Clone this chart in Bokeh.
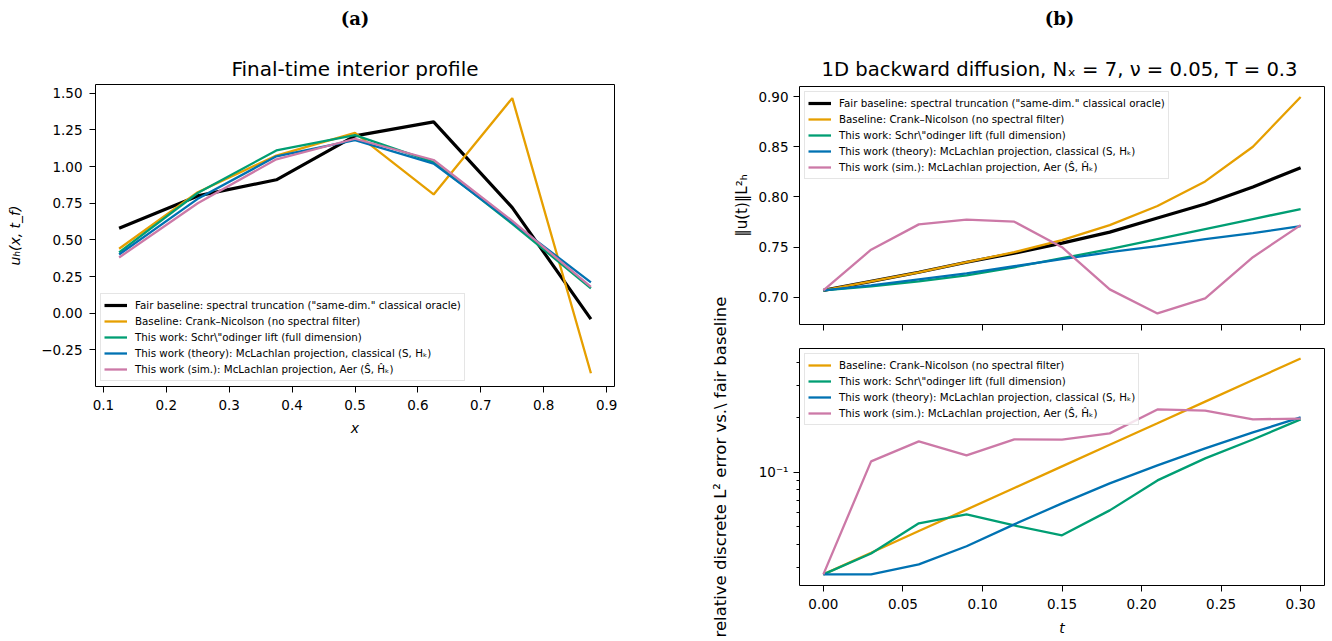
from bokeh.plotting import figure
from bokeh.layouts import row, column
from bokeh.models import Range1d, FixedTicker, CustomJSTickFormatter
from bokeh.core.properties import value
from bokeh.embed import file_html
from bokeh.resources import INLINE

FONT = "DejaVu Sans"

# ---------------- data ----------------
x_nodes = [0.125, 0.25, 0.375, 0.5, 0.625, 0.75, 0.875]
prof_fair = [0.58, 0.80, 0.91, 1.21, 1.305, 0.72, -0.04]
prof_cn = [0.44, 0.825, 1.075, 1.23, 0.81, 1.467, -0.41]
prof_schr = [0.415, 0.82, 1.11, 1.215, 1.03, 0.61, 0.17]
prof_theory = [0.40, 0.78, 1.07, 1.18, 1.02, 0.62, 0.21]
prof_sim = [0.38, 0.75, 1.05, 1.19, 1.045, 0.63, 0.18]

t_vals = [0.00, 0.03, 0.06, 0.09, 0.12, 0.15, 0.18, 0.21, 0.24, 0.27, 0.30]
norm_fair = [0.707, 0.716, 0.725, 0.735, 0.744, 0.754, 0.765, 0.779, 0.793, 0.810, 0.829]
norm_cn = [0.707, 0.716, 0.725, 0.735, 0.745, 0.757, 0.772, 0.791, 0.8155, 0.850, 0.8995]
norm_schr = [0.707, 0.711, 0.716, 0.722, 0.730, 0.739, 0.748, 0.758, 0.768, 0.778, 0.788]
norm_theory = [0.707, 0.712, 0.718, 0.724, 0.731, 0.738, 0.745, 0.751, 0.758, 0.764, 0.771]
norm_sim = [0.707, 0.7475, 0.7727, 0.7774, 0.7754, 0.750, 0.708, 0.684, 0.699, 0.740, 0.772]

err_cn = [0.0274, 0.0360, 0.0474, 0.0622, 0.0818, 0.1075, 0.1413, 0.1856, 0.244, 0.3207, 0.4214]
err_schr = [0.0274, 0.0357, 0.0523, 0.0586, 0.0509, 0.0449, 0.0616, 0.090, 0.119, 0.151, 0.195]
err_theory = [0.0274, 0.0274, 0.0311, 0.0391, 0.0516, 0.0673, 0.0867, 0.1088, 0.135, 0.1652, 0.1998]
err_sim = [0.0274, 0.1145, 0.1475, 0.1235, 0.1512, 0.151, 0.1632, 0.221, 0.218, 0.195, 0.197]

x_ticks = [0.1, 0.2, 0.3, 0.4, 0.5, 0.6, 0.7, 0.8, 0.9]
u_ticks = [-0.25, 0.0, 0.25, 0.5, 0.75, 1.0, 1.25, 1.5]
t_ticks = [0.0, 0.05, 0.10, 0.15, 0.20, 0.25, 0.30]
norm_ticks = [0.70, 0.75, 0.80, 0.85, 0.90]
err_major = [0.1]
err_minor = [0.03, 0.04, 0.05, 0.06, 0.07, 0.08, 0.09, 0.2, 0.3, 0.4]

lab_fair = 'Fair baseline: spectral truncation ("same-dim." classical oracle)'
lab_cn = "Baseline: Crank–Nicolson (no spectral filter)"
lab_schr = 'This work: Schr\\"odinger lift (full dimension)'
lab_theory = "This work (theory): McLachlan projection, classical (S, Hₖ)"
lab_sim = "This work (sim.): McLachlan projection, Aer (Ŝ, Ĥₖ)"

C_FAIR, C_CN, C_SCHR, C_TH, C_SIM = "#000000", "#E69F00", "#009E73", "#0072B2", "#CC79A7"

title_a = "(a)"
title_b = "(b)"
sub_a = "Final-time interior profile"
sub_b = "1D backward diffusion, Nₓ = 7, ν = 0.05, T = 0.3"
xlab_a = "x"
ylab_a = "uₕ(x, t_f)"
xlab_b = "t"
ylab_norm = "‖u(t)‖L²ₕ"
ylab_err = "relative discrete L² error vs.\\ fair baseline"

# ---------------- layout geometry (pixels) ----------------
W_TOTAL = 1330
HEAD_H = 82
P1_W, P1_BL, P1_FW = 690, 95, 519
P1_BR = P1_W - P1_BL - P1_FW
P1_BT, P1_FH, P1_BB = 2, 302, 64
STRIP_W = 40
R_W = W_TOTAL - P1_W - STRIP_W
R_BL, R_FW = 64, 530
R_BR = R_W - R_BL - R_FW
P2_BT, P2_FH, P2_BB = 4, 238, 22
P3_BT, P3_FH, P3_BB = 2, 237, 55
BODY_H = P2_BT + P2_FH + P2_BB + P3_BT + P3_FH + P3_BB
# frame of the label strip: centred on the lower panel's frame
S_FH = 333
S_BT = P2_BT + P2_FH + P2_BB + P3_BT + P3_FH // 2 - S_FH // 2
S_BB = BODY_H - S_BT - S_FH

fmt2 = CustomJSTickFormatter(code="return tick.toFixed(2).replace('-', '\u2212');")
fmt1 = CustomJSTickFormatter(code="return tick.toFixed(1);")
fmt_log = CustomJSTickFormatter(code="""
const e = Math.round(Math.log10(tick));
const sup = {'-':'\u207b','0':'\u2070','1':'\u00b9','2':'\u00b2','3':'\u00b3','4':'\u2074','5':'\u2075','6':'\u2076','7':'\u2077','8':'\u2078','9':'\u2079'};
return '10' + String(e).split('').map(c => sup[c]).join('');
""")


def style(p):
    p.xgrid.visible = False
    p.ygrid.visible = False
    p.outline_line_color = "black"
    p.outline_line_width = 1
    p.outline_line_alpha = 1
    p.background_fill_color = "white"
    p.border_fill_color = "white"
    for ax in list(p.xaxis) + list(p.yaxis):
        ax.axis_line_color = None
        ax.major_tick_out = 6
        ax.major_tick_in = 0
        ax.major_tick_line_color = "black"
        ax.major_tick_line_width = 1
        ax.minor_tick_line_color = None
        ax.major_label_text_font = FONT
        ax.major_label_text_font_size = "13.5px"
        ax.major_label_text_color = "black"
        ax.major_label_standoff = 7
        ax.axis_label_text_font = FONT
        ax.axis_label_text_font_size = "14px"
        ax.axis_label_text_color = "black"
        ax.axis_label_standoff = 8


def style_legend(p, loc):
    lg = p.legend[0]
    lg.location = loc
    lg.margin = 5
    lg.padding = 3
    lg.spacing = 0
    lg.label_height = 16
    lg.glyph_height = 16
    lg.glyph_width = 23
    lg.label_standoff = 8
    lg.label_text_font = FONT
    lg.label_text_font_size = "10.3px"
    lg.label_text_color = "black"
    lg.border_line_color = "#cccccc"
    lg.border_line_width = 1
    lg.background_fill_color = "white"
    lg.background_fill_alpha = 0.8


# ---------------- header: panel letters and titles ----------------
cx_a = P1_BL + P1_FW / 2
cx_b = P1_W + STRIP_W + R_BL + R_FW / 2
hd = figure(width=W_TOTAL, height=HEAD_H, x_range=Range1d(0, W_TOTAL), y_range=Range1d(HEAD_H, 0),
            output_backend="svg", toolbar_location=None, min_border=0,
            x_axis_location=None, y_axis_location=None)
hd.outline_line_color = None
hd.grid.visible = False
hd.text(x=[cx_a, cx_b], y=[18, 18], text=[title_a, title_b], text_align="center",
        text_baseline="middle", text_font=value("DejaVu Serif"), text_font_style="bold",
        text_font_size="18px", text_color="black")
hd.text(x=[cx_a], y=[68], text=[sub_a], text_align="center", text_baseline="middle",
        text_font=value(FONT), text_font_size="20px", text_color="black")
hd.text(x=[cx_b], y=[69], text=[sub_b], text_align="center", text_baseline="middle",
        text_font=value(FONT), text_font_size="19.6px", text_color="black")

# ---------------- (a) ----------------
p1 = figure(width=P1_W, height=P1_BT + P1_FH + P1_BB,
            x_range=Range1d(0.0875, 0.9125), y_range=Range1d(-0.50, 1.56),
            output_backend="svg", toolbar_location=None,
            min_border_left=P1_BL, min_border_right=P1_BR,
            min_border_top=P1_BT, min_border_bottom=P1_BB)
p1.line(x_nodes, prof_fair, color=C_FAIR, line_width=3.2, legend_label=lab_fair)
p1.line(x_nodes, prof_cn, color=C_CN, line_width=2.3, legend_label=lab_cn)
p1.line(x_nodes, prof_schr, color=C_SCHR, line_width=2.3, legend_label=lab_schr)
p1.line(x_nodes, prof_theory, color=C_TH, line_width=2.3, legend_label=lab_theory)
p1.line(x_nodes, prof_sim, color=C_SIM, line_width=2.3, legend_label=lab_sim)
style(p1)
p1.xaxis.ticker = FixedTicker(ticks=x_ticks)
p1.xaxis.formatter = fmt1
p1.yaxis.ticker = FixedTicker(ticks=u_ticks)
p1.yaxis.formatter = fmt2
p1.xaxis.axis_label = xlab_a
p1.xaxis.axis_label_standoff = 7
p1.yaxis.axis_label = ylab_a
p1.yaxis.axis_label_standoff = 15
style_legend(p1, "bottom_left")

# ---------------- label strip holding the lower panel's y label ----------------
ps = figure(width=STRIP_W, height=BODY_H, x_range=Range1d(0, 1), y_range=Range1d(0, 1),
            output_backend="svg", toolbar_location=None,
            min_border_left=STRIP_W - 1, min_border_right=0,
            min_border_top=S_BT, min_border_bottom=S_BB,
            x_axis_location=None, y_axis_location="left")
ps.outline_line_color = None
ps.grid.visible = False
ps.background_fill_color = "white"
ps.border_fill_color = "white"
ps.yaxis.ticker = FixedTicker(ticks=[])
ps.yaxis.axis_line_color = None
ps.yaxis.major_tick_out = 0
ps.yaxis.major_tick_in = 0
ps.yaxis.minor_tick_line_color = None
ps.yaxis.major_tick_line_color = None
ps.yaxis.major_label_text_color = None
ps.yaxis.major_label_text_font_size = "1px"
ps.yaxis.major_label_standoff = 0
ps.yaxis.axis_label = ylab_err
ps.yaxis.axis_label_standoff = 0
ps.yaxis.axis_label_text_font = FONT
ps.yaxis.axis_label_text_font_size = "16.5px"
ps.yaxis.axis_label_text_font_style = "normal"
ps.yaxis.axis_label_text_color = "black"

# ---------------- (b) top ----------------
p2 = figure(width=R_W, height=P2_BT + P2_FH + P2_BB,
            x_range=Range1d(-0.015, 0.315), y_range=Range1d(0.673, 0.910),
            output_backend="svg", toolbar_location=None,
            min_border_left=R_BL, min_border_right=R_BR,
            min_border_top=P2_BT, min_border_bottom=P2_BB)
p2.line(t_vals, norm_fair, color=C_FAIR, line_width=3.2, legend_label=lab_fair)
p2.line(t_vals, norm_cn, color=C_CN, line_width=2.3, legend_label=lab_cn)
p2.line(t_vals, norm_schr, color=C_SCHR, line_width=2.3, legend_label=lab_schr)
p2.line(t_vals, norm_theory, color=C_TH, line_width=2.3, legend_label=lab_theory)
p2.line(t_vals, norm_sim, color=C_SIM, line_width=2.3, legend_label=lab_sim)
style(p2)
p2.xaxis.ticker = FixedTicker(ticks=t_ticks)
p2.xaxis.major_label_text_color = None
p2.xaxis.major_label_text_font_size = "1px"
p2.xaxis.major_label_standoff = 0
p2.yaxis.ticker = FixedTicker(ticks=norm_ticks)
p2.yaxis.formatter = fmt2
p2.yaxis.major_label_standoff = 5
p2.yaxis.axis_label = ylab_norm
p2.yaxis.axis_label_standoff = 4
p2.yaxis.axis_label_text_font_size = "15px"
p2.yaxis.axis_label_text_font_style = "normal"
style_legend(p2, "top_left")

# ---------------- (b) bottom ----------------
p3 = figure(width=R_W, height=P3_BT + P3_FH + P3_BB,
            x_range=Range1d(-0.015, 0.315), y_range=Range1d(0.0238, 0.478),
            y_axis_type="log", output_backend="svg", toolbar_location=None,
            min_border_left=R_BL, min_border_right=R_BR,
            min_border_top=P3_BT, min_border_bottom=P3_BB)
p3.line(t_vals, err_cn, color=C_CN, line_width=2.3, legend_label=lab_cn)
p3.line(t_vals, err_schr, color=C_SCHR, line_width=2.3, legend_label=lab_schr)
p3.line(t_vals, err_theory, color=C_TH, line_width=2.3, legend_label=lab_theory)
p3.line(t_vals, err_sim, color=C_SIM, line_width=2.3, legend_label=lab_sim)
style(p3)
p3.xaxis.ticker = FixedTicker(ticks=t_ticks)
p3.xaxis.formatter = fmt2
p3.xaxis.axis_label = xlab_b
p3.xaxis.axis_label_standoff = 8
p3.yaxis.ticker = FixedTicker(ticks=err_major, minor_ticks=err_minor)
p3.yaxis.formatter = fmt_log
p3.yaxis.major_label_standoff = 5
p3.yaxis.minor_tick_line_color = "black"
p3.yaxis.minor_tick_out = 3
p3.yaxis.minor_tick_in = 0
style_legend(p3, "top_left")

# the strip sits in its own row beside the (b) column, so that it is not
# frame-aligned with panel (a)
right_block = row(ps, column(p2, p3))
layout = column(hd, row(p1, right_block))
open("out.html", "w").write(file_html(layout, INLINE))
